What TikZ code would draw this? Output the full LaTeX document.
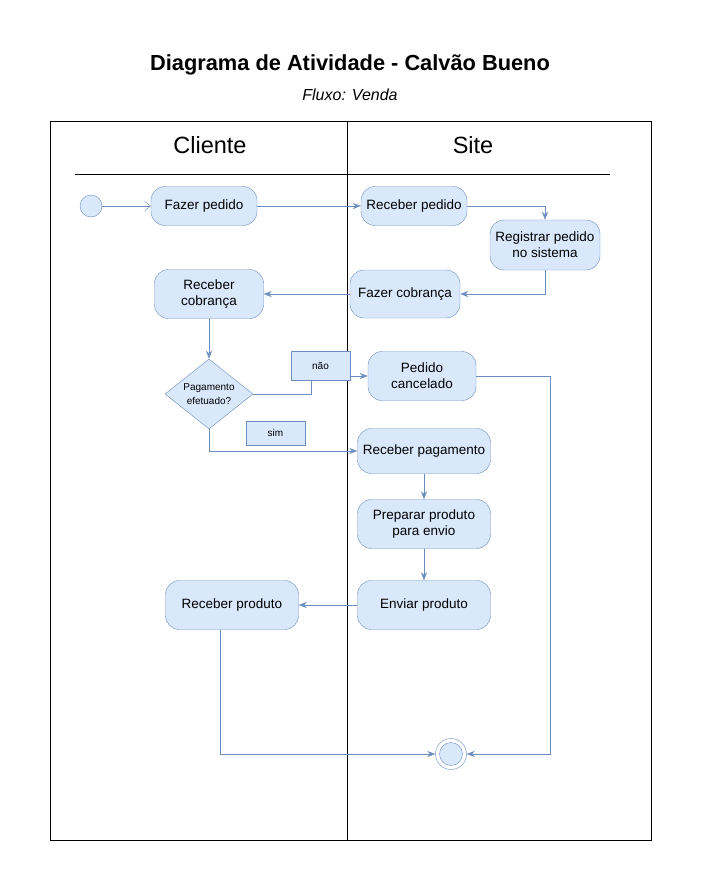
\documentclass[tikz,border=0pt]{standalone}
\usepackage{fontspec}
\setmainfont{Liberation Sans}
\usetikzlibrary{arrows.meta,shapes.geometric}

\definecolor{actfill}{HTML}{DAE8FC}
\definecolor{actline}{HTML}{6C8EBF}

\tikzset{
  activity/.style={draw=actline,fill=actfill,rounded corners=14pt,align=center,inner sep=1pt,font=\fontsize{13.5}{16}\selectfont},
  decision/.style={draw=actline,fill=actfill,diamond,aspect=1.25,inner sep=0pt,minimum width=88pt,minimum height=70pt,align=center,font=\fontsize{10}{14}\selectfont},
  guard/.style={draw=actline,fill=actfill,inner sep=0pt,align=center,font=\fontsize{10}{12}\selectfont},
  flow/.style={draw=actline,-{Stealth[length=8pt,width=6pt]}},
  swim/.style={draw=black,line width=0.8pt}
}

\begin{document}
\begin{tikzpicture}[x=1pt,y=1pt,yscale=-1,xscale=1]
\path (0,0) rectangle (701,891);

% Title
\node (title) at (350,65) {\fontsize{21.8}{26}\selectfont\bfseries Diagrama de Atividade - Calvão Bueno};
\node (subtitle) at (350,95) {\fontsize{16}{18}\selectfont\itshape Fluxo: Venda};

% Lanes
\draw[swim] (50,121) rectangle (651,840);
\draw[swim] (347,121) -- (347,840);
\draw[swim] (75,174) -- (610,174);
\node (cliente) at (210,145) {\fontsize{23.5}{26}\selectfont Cliente};
\node (site) at (473,145) {\fontsize{23.5}{26}\selectfont Site};

% Start and end
\node (start) [circle,draw=actline,fill=actfill,minimum size=22pt,inner sep=0pt] at (91,206) {};
\node (fim) [circle,draw=actline,minimum size=31pt,inner sep=0pt] at (451,754) {};
\node (fimin) [circle,draw=actline,fill=actfill,minimum size=23pt,inner sep=0pt] at (451,754) {};

% Activities
\node (fazerpedido) [activity,minimum width=106pt,minimum height=39pt] at (204,206) {Fazer pedido};
\node (receberpedido) [activity,minimum width=106pt,minimum height=39pt] at (414,206) {Receber pedido};
\node (registrar) [activity,minimum width=110pt,minimum height=50pt] at (545,245) {Registrar pedido\\no sistema};
\node (cobranca) [activity,minimum width=110pt,minimum height=48pt] at (405,294) {Fazer cobrança};
\node (recebercobranca) [activity,minimum width=109pt,minimum height=49pt] at (209,294) {Receber\\cobrança};
\node (pagou) [decision] at (209,394) {Pagamento\\efetuado?};
\node (cancelado) [activity,minimum width=108pt,minimum height=49pt] at (422,376) {Pedido\\cancelado};
\node (pagamento) [activity,minimum width=133pt,minimum height=45pt] at (424,451) {Receber pagamento};
\node (preparar) [activity,minimum width=133pt,minimum height=49pt] at (424,524) {Preparar produto\\para envio};
\node (enviar) [activity,minimum width=133pt,minimum height=49pt] at (424,605) {Enviar produto};
\node (receberproduto) [activity,minimum width=133pt,minimum height=49pt] at (232,605) {Receber produto};

% Flows
\draw[draw=actline,-{Straight Barb[length=6pt,width=10pt]}] (start) -- (fazerpedido);
\draw[flow] (fazerpedido) -- (receberpedido);
\draw[flow] (receberpedido.east) -| (registrar.north);
\draw[flow] (registrar.south) |- (cobranca.east);
\draw[flow] (cobranca) -- (recebercobranca);
\draw[flow] (recebercobranca) -- (pagou);
\coordinate (naoturn) at (311,394);
\draw[flow] (pagou.east) -- (naoturn) -- (311,376) -- (cancelado.west);
\draw[flow] (pagou.south) |- (pagamento.west);
\draw[flow] (cancelado.east) -- (550,376) |- (fim.east);
\draw[flow] (pagamento) -- (preparar);
\draw[flow] (preparar) -- (enviar);
\draw[flow] (enviar) -- (receberproduto);
\coordinate (prodout) at (220,629.5);
\draw[flow] (prodout) |- (fim.west);

% Guards
\node (nao) [guard,minimum width=59pt,minimum height=29pt] at (320.5,365.5) {não};
\node (sim) [guard,minimum width=59pt,minimum height=24pt] at (275.5,433) {sim};

\end{tikzpicture}
\end{document}
